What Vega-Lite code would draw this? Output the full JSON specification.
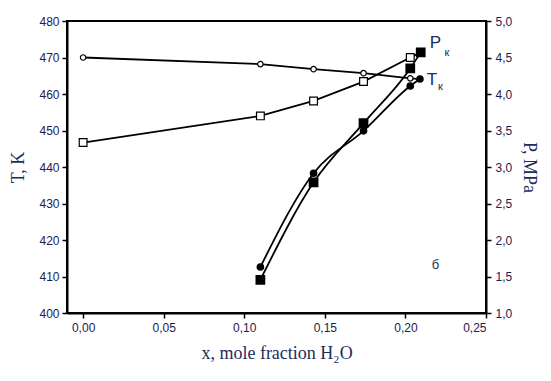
{
  "$schema": "https://vega.github.io/schema/vega-lite/v6.json",
  "autosize": {"type": "none"},
  "width": 419,
  "height": 292,
  "padding": {"left": 67, "top": 21, "right": 65, "bottom": 68},
  "config": {
    "view": {"stroke": "black", "strokeWidth": 2},
    "axis": {
      "grid": false,
      "domainColor": "black",
      "domainWidth": 2,
      "tickColor": "black",
      "tickWidth": 1.5,
      "tickSize": 5,
      "labelFont": "Liberation Sans",
      "labelFontSize": 12,
      "labelColor": "#1e2050",
      "titleFont": "Liberation Serif",
      "titleFontSize": 18,
      "titleFontWeight": "normal",
      "titleColor": "#1c2d5c"
    }
  },
  "datasets": {
    "pts": [
      {"series": "T_open", "x": 0.0, "v": 470.0, "marker": "open"},
      {"series": "T_open", "x": 0.11, "v": 468.2, "marker": "open"},
      {"series": "T_open", "x": 0.143, "v": 466.8, "marker": "open"},
      {"series": "T_open", "x": 0.174, "v": 465.7, "marker": "open"},
      {"series": "T_open", "x": 0.203, "v": 464.3, "marker": "open"},
      {"series": "T_open", "x": 0.209, "v": 464.1, "marker": "none"},
      {"series": "T_filled", "x": 0.11, "v": 412.6, "marker": "filled"},
      {"series": "T_filled", "x": 0.143, "v": 438.3, "marker": "filled"},
      {"series": "T_filled", "x": 0.174, "v": 449.9, "marker": "filled"},
      {"series": "T_filled", "x": 0.203, "v": 462.2, "marker": "filled"},
      {"series": "T_filled", "x": 0.209, "v": 464.1, "marker": "filled"},
      {"series": "P_open", "x": 0.0, "v": 3.335, "marker": "open"},
      {"series": "P_open", "x": 0.11, "v": 3.70, "marker": "open"},
      {"series": "P_open", "x": 0.143, "v": 3.905, "marker": "open"},
      {"series": "P_open", "x": 0.174, "v": 4.17, "marker": "open"},
      {"series": "P_open", "x": 0.203, "v": 4.50, "marker": "open"},
      {"series": "P_open", "x": 0.2095, "v": 4.57, "marker": "none"},
      {"series": "P_filled", "x": 0.11, "v": 1.455, "marker": "filled"},
      {"series": "P_filled", "x": 0.143, "v": 2.79, "marker": "filled"},
      {"series": "P_filled", "x": 0.174, "v": 3.60, "marker": "filled"},
      {"series": "P_filled", "x": 0.203, "v": 4.35, "marker": "filled"},
      {"series": "P_filled", "x": 0.2095, "v": 4.57, "marker": "filled"}
    ],
    "labels": [
      {"x": 0.2186, "v": 473.9, "t": "P", "size": 17},
      {"x": 0.2258, "v": 471.1, "t": "к", "size": 11},
      {"x": 0.2165, "v": 463.8, "t": "T", "size": 17},
      {"x": 0.2217, "v": 462.0, "t": "к", "size": 11},
      {"x": 0.2186, "v": 413.1, "t": "б", "size": 13}
    ]
  },
  "layer": [
    {
      "encoding": {
        "x": {
          "field": "x", "type": "quantitative",
          "scale": {"domain": [-0.01, 0.25], "nice": false, "zero": false},
          "axis": {
            "values": [0, 0.05, 0.1, 0.15, 0.2, 0.25],
            "labelExpr": "replace(format(datum.value, '.2f'), '.', ',')",
            "title": "x, mole fraction H₂O",
            "titlePadding": 11,
            "labelPadding": 4
          }
        },
        "y": {
          "field": "v", "type": "quantitative",
          "scale": {"domain": [400, 480], "nice": false, "zero": false},
          "axis": {
            "values": [400, 410, 420, 430, 440, 450, 460, 470, 480],
            "title": "T, K",
            "titlePadding": 11,
            "labelPadding": 3
          }
        }
      },
      "layer": [
        {
          "data": {"name": "pts"},
          "transform": [{"filter": "datum.series === 'T_open'"}],
          "mark": {"type": "line", "color": "black", "strokeWidth": 1.8, "interpolate": "linear"}
        },
        {
          "data": {"name": "pts"},
          "transform": [{"filter": "datum.series === 'T_filled'"}],
          "mark": {"type": "line", "color": "black", "strokeWidth": 1.8, "interpolate": "monotone"}
        },
        {
          "data": {"name": "pts"},
          "transform": [{"filter": "indexof(datum.series, 'T') === 0 && datum.marker === 'open'"}],
          "mark": {"type": "point", "shape": "circle", "filled": true, "fill": "white", "stroke": "black", "strokeWidth": 1.2, "size": 30, "opacity": 1}
        },
        {
          "data": {"name": "pts"},
          "transform": [{"filter": "indexof(datum.series, 'T') === 0 && datum.marker === 'filled'"}],
          "mark": {"type": "point", "shape": "circle", "filled": true, "fill": "black", "stroke": "black", "size": 32, "opacity": 1}
        },
        {
          "data": {"name": "labels"},
          "mark": {"type": "text", "font": "Liberation Sans", "color": "#1c2d5c", "align": "center", "baseline": "middle"},
          "encoding": {
            "text": {"field": "t"},
            "size": {"field": "size", "type": "quantitative", "scale": null}
          }
        }
      ]
    },
    {
      "encoding": {
        "x": {"field": "x", "type": "quantitative", "scale": {"domain": [-0.01, 0.25], "nice": false, "zero": false}},
        "y": {
          "field": "v", "type": "quantitative",
          "scale": {"domain": [1, 5], "nice": false, "zero": false},
          "axis": {
            "orient": "right",
            "values": [1, 1.5, 2, 2.5, 3, 3.5, 4, 4.5, 5],
            "labelExpr": "replace(format(datum.value, '.1f'), '.', ',')",
            "title": "P, MPa",
            "titlePadding": 8,
            "labelPadding": 4
          }
        }
      },
      "layer": [
        {
          "data": {"name": "pts"},
          "transform": [{"filter": "datum.series === 'P_open'"}],
          "mark": {"type": "line", "color": "black", "strokeWidth": 1.8, "interpolate": "linear"}
        },
        {
          "data": {"name": "pts"},
          "transform": [{"filter": "datum.series === 'P_filled'"}],
          "mark": {"type": "line", "color": "black", "strokeWidth": 1.8, "interpolate": "monotone"}
        },
        {
          "data": {"name": "pts"},
          "transform": [{"filter": "indexof(datum.series, 'P') === 0 && datum.marker === 'open'"}],
          "mark": {"type": "point", "shape": "square", "filled": true, "fill": "white", "stroke": "black", "strokeWidth": 1.2, "size": 60, "opacity": 1}
        },
        {
          "data": {"name": "pts"},
          "transform": [{"filter": "indexof(datum.series, 'P') === 0 && datum.marker === 'filled'"}],
          "mark": {"type": "point", "shape": "square", "filled": true, "fill": "black", "stroke": "black", "size": 60, "opacity": 1}
        }
      ]
    }
  ],
  "resolve": {"scale": {"y": "independent"}}
}
